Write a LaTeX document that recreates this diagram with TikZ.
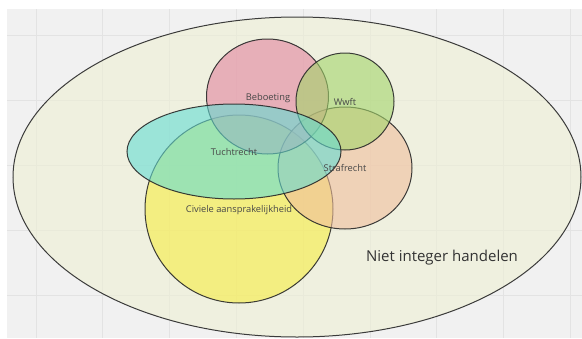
\documentclass[tikz,border=0pt]{standalone}
\usepackage{fontspec}
\setmainfont{Open Sans}
\usetikzlibrary{shapes.geometric}
\definecolor{bgc}{RGB}{241,241,241}
\definecolor{gridc}{RGB}{227,227,227}
\definecolor{outerc}{RGB}{238,240,212}
\definecolor{pinkc}{RGB}{227,132,158}
\definecolor{wwftc}{RGB}{163,213,107}
\definecolor{cyanc}{RGB}{100,220,212}
\definecolor{yellowc}{RGB}{247,237,67}
\definecolor{peachc}{RGB}{240,190,157}
\definecolor{linec}{RGB}{40,40,40}
\begin{document}
\begin{tikzpicture}[x=1pt,y=-1pt,
  setshape/.style={ellipse, draw=linec, line width=1pt, fill opacity=0.6, draw opacity=0.9, inner sep=0pt},
  lbl/.style={font=\fontsize{9.3}{11}\selectfont, text=black!72},
  biglbl/.style={font=\fontsize{15}{17}\selectfont, text=black!80},
  gridline/.style={draw=gridc, line width=0.7pt}]
\useasboundingbox (0,0) rectangle (582,338);
\fill[white] (0,0) rectangle (582,338);
\fill[bgc] (7,9) rectangle (582,338);
\begin{scope}
\clip (7,9) rectangle (582,338);
\foreach \gx in {36,102.8,169.6,236.4,303.2,370,436.8,503.6,570.4}
  \draw[gridline] (\gx,9) -- (\gx,338);
\foreach \gy in {35,100,165,230,295}
  \draw[gridline] (7,\gy) -- (582,\gy);
\node[setshape, fill=outerc, minimum width=568pt, minimum height=320pt] (niet) at (297,177) {};
\node[setshape, fill=yellowc, minimum width=188pt, minimum height=188pt] (civ) at (239,209) {};
\node[setshape, fill=peachc, minimum width=134pt, minimum height=122pt] (straf) at (345,168) {};
\node[setshape, fill=pinkc, minimum width=122pt, minimum height=115pt] (beb) at (267.5,96.5) {};
\node[setshape, fill=wwftc, minimum width=98pt, minimum height=97pt] (wwft) at (345,101.5) {};
\node[setshape, fill=cyanc, minimum width=214pt, minimum height=95pt] (tucht) at (234,151.5) {};
\end{scope}
\node[lbl] (lbeb) at (268,98) {Beboeting};
\node[lbl] (lwwft) at (345,102) {Wwft};
\node[lbl] (ltucht) at (234,152) {Tuchtrecht};
\node[lbl] (lstraf) at (345,168) {Strafrecht};
\node[lbl] (lciv) at (239,210) {Civiele aansprakelijkheid};
\node[biglbl] (lniet) at (442,258) {Niet integer handelen};
\end{tikzpicture}
\end{document}
